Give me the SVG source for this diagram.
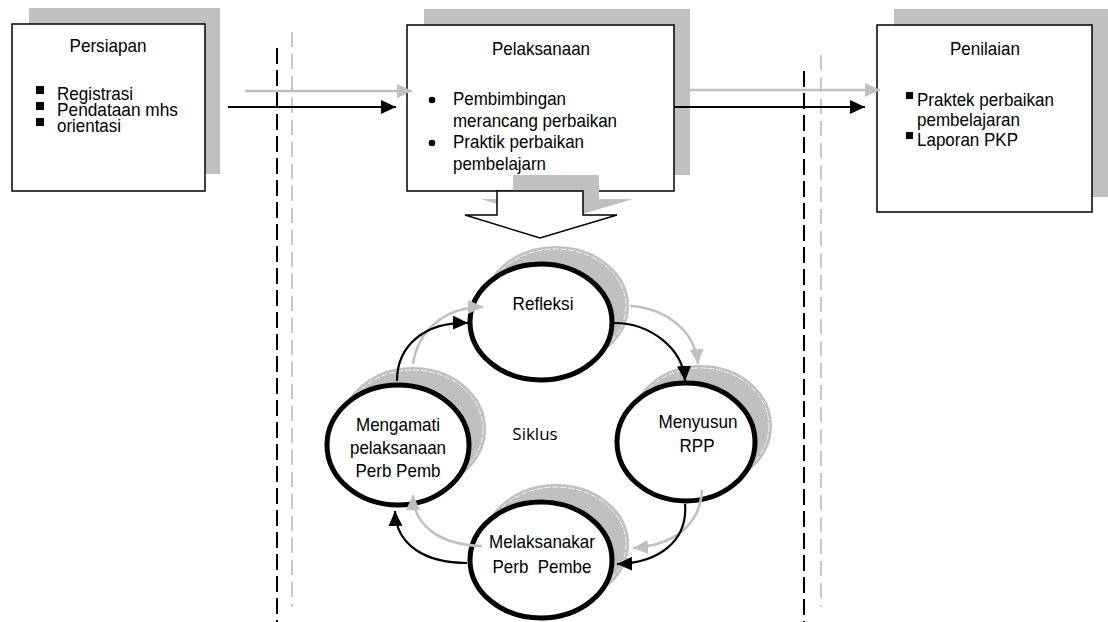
<svg xmlns="http://www.w3.org/2000/svg" width="1108" height="622" viewBox="0 0 1108 622">
<style>
.t{font-family:"Liberation Sans",Arial,sans-serif;font-size:18.5px;fill:#000}
.c{text-anchor:middle}
.sh{fill:#c0c0c0}
.box{fill:#fff;stroke:#000;stroke-width:1.5}
.ring{fill:#fff;stroke:#000;stroke-width:5}
.eshadow{fill:#c0c0c0;stroke:#c0c0c0;stroke-width:4}
.ewhite{fill:none;stroke:#fff;stroke-width:0.8;stroke-dasharray:6 2}
.blk{fill:none;stroke:#000;stroke-width:2.2}
.gry{fill:none;stroke:#c0c0c0;stroke-width:2.5}
.dk{fill:none;stroke:#000;stroke-width:2;stroke-dasharray:16 6}
.dg{fill:none;stroke:#c8c8c8;stroke-width:2;stroke-dasharray:15 7}
</style>
<defs>
<marker id="ab" markerUnits="userSpaceOnUse" markerWidth="16" markerHeight="15" refX="15" refY="7" orient="auto"><path d="M0,0 L15,7 L0,14 z" fill="#000"/></marker>
<marker id="ag" markerUnits="userSpaceOnUse" markerWidth="16" markerHeight="15" refX="15" refY="7" orient="auto"><path d="M0,0 L15,7 L0,14 z" fill="#c0c0c0"/></marker>
</defs>
<rect width="1108" height="622" fill="#fff"/>

<g id="separators">
<line class="dg" x1="292" y1="32" x2="292" y2="607"/>
<line class="dk" x1="277" y1="48" x2="277" y2="622"/>
<line class="dg" x1="821" y1="55" x2="821" y2="607"/>
<line class="dk" x1="804" y1="71" x2="804" y2="622"/>
</g>

<g id="persiapan">
<rect class="sh" x="29" y="8" width="191" height="166"/>
<rect class="box" x="12" y="24" width="193" height="167"/>
<text class="t c" x="108" y="52" textLength="77" lengthAdjust="spacingAndGlyphs">Persiapan</text>
<rect x="36" y="86" width="8" height="8"/>
<rect x="36" y="102" width="8" height="8"/>
<rect x="36" y="118" width="8" height="8"/>
<text class="t" x="57" y="100" textLength="76" lengthAdjust="spacingAndGlyphs">Registrasi</text>
<text class="t" x="57" y="116" textLength="121" lengthAdjust="spacingAndGlyphs">Pendataan mhs</text>
<text class="t" x="57" y="132" textLength="64" lengthAdjust="spacingAndGlyphs">orientasi</text>
</g>

<g id="pelaksanaan">
<rect class="sh" x="424" y="9" width="266" height="166"/>
<rect class="box" x="407" y="25" width="267" height="166"/>
<polygon class="sh" points="513,175 599,175 599,199 633,199 556,222 481,199 513,199"/>
<polygon points="497,191 583,191 583,215 617,215 540,238 465,215 497,215" fill="#fff" stroke="#000" stroke-width="1.5"/>
<text class="t c" x="541" y="55" textLength="98" lengthAdjust="spacingAndGlyphs">Pelaksanaan</text>
<circle cx="432" cy="100" r="3.3"/>
<circle cx="432" cy="143" r="3.3"/>
<text class="t" x="453" y="105" textLength="113" lengthAdjust="spacingAndGlyphs">Pembimbingan</text>
<text class="t" x="453" y="127" textLength="164" lengthAdjust="spacingAndGlyphs">merancang perbaikan</text>
<text class="t" x="453" y="148" textLength="131" lengthAdjust="spacingAndGlyphs">Praktik perbaikan</text>
<text class="t" x="453" y="170" textLength="93" lengthAdjust="spacingAndGlyphs">pembelajarn</text>
</g>

<g id="penilaian">
<rect class="sh" x="894" y="9" width="214" height="188"/>
<rect class="box" x="877" y="25" width="215" height="187"/>
<text class="t c" x="985" y="55" textLength="70" lengthAdjust="spacingAndGlyphs">Penilaian</text>
<rect x="906" y="92" width="7" height="7"/>
<rect x="906" y="132" width="7" height="7"/>
<text class="t" x="917" y="106" textLength="137" lengthAdjust="spacingAndGlyphs">Praktek perbaikan</text>
<text class="t" x="917" y="126" textLength="103" lengthAdjust="spacingAndGlyphs">pembelajaran</text>
<text class="t" x="917" y="146" textLength="101" lengthAdjust="spacingAndGlyphs">Laporan PKP</text>
</g>

<g id="refleksi">
<ellipse class="eshadow" cx="556" cy="306" rx="71" ry="58"/>
<ellipse class="ewhite" cx="556" cy="306" rx="70" ry="57"/>
<ellipse class="ring" cx="541" cy="322" rx="71" ry="58"/>
<text class="t c" x="543" y="310" textLength="61" lengthAdjust="spacingAndGlyphs">Refleksi</text>
</g>

<g id="menyusun">
<ellipse class="eshadow" cx="701" cy="426" rx="69" ry="59"/>
<ellipse class="ewhite" cx="701" cy="426" rx="68" ry="58"/>
<ellipse class="ring" cx="686" cy="442" rx="69" ry="59"/>
<text class="t c" x="698" y="428" textLength="79" lengthAdjust="spacingAndGlyphs">Menyusun</text>
<text class="t c" x="697" y="452" textLength="35" lengthAdjust="spacingAndGlyphs">RPP</text>
</g>

<g id="melaksanakan">
<ellipse class="eshadow" cx="556" cy="544" rx="71" ry="58"/>
<ellipse class="ewhite" cx="556" cy="544" rx="70" ry="57"/>
<ellipse class="ring" cx="541" cy="560" rx="71" ry="58"/>
<text class="t c" x="542" y="548" textLength="106" lengthAdjust="spacingAndGlyphs">Melaksanakar</text>
<text class="t c" x="542" y="573" style="white-space:pre" textLength="99" lengthAdjust="spacingAndGlyphs">Perb  Pembe</text>
</g>

<g id="mengamati">
<ellipse class="eshadow" cx="413" cy="429" rx="71" ry="60"/>
<ellipse class="ewhite" cx="413" cy="429" rx="70" ry="59"/>
<ellipse class="ring" cx="398" cy="445" rx="71" ry="60"/>
<text class="t c" x="398" y="431" textLength="84" lengthAdjust="spacingAndGlyphs">Mengamati</text>
<text class="t c" x="398" y="454" textLength="96" lengthAdjust="spacingAndGlyphs">pelaksanaan</text>
<text class="t c" x="398" y="477" textLength="85" lengthAdjust="spacingAndGlyphs">Perb Pemb</text>
</g>

<g id="siklus">
<text x="535" y="440" text-anchor="middle" style="font-family:'Open Sans','Noto Sans',sans-serif;font-size:17px">Siklus</text>
</g>

<g id="connectors">
<line class="gry" x1="245" y1="91" x2="412" y2="91" marker-end="url(#ag)"/>
<line class="blk" x1="228" y1="107" x2="396" y2="107" marker-end="url(#ab)"/>
<line class="gry" x1="690" y1="90" x2="880" y2="90" marker-end="url(#ag)"/>
<line class="blk" x1="674" y1="107" x2="865" y2="107" marker-end="url(#ab)"/>
<path class="gry" d="M413,364 C418,330 445,307 483,307" marker-end="url(#ag)"/>
<path class="blk" d="M397,381 C397,345 425,322 468,323" marker-end="url(#ab)"/>
<path class="gry" d="M630,306 C665,308 695,330 698,364" marker-end="url(#ag)"/>
<path class="blk" d="M614,323 C650,323 683,348 685,381" marker-end="url(#ab)"/>
<path class="gry" d="M702,490 C700,525 675,545 633,548" marker-end="url(#ag)"/>
<path class="blk" d="M685,504 C688,540 660,563 617,564" marker-end="url(#ab)"/>
<path class="gry" d="M482,546 C440,545 413,525 413,495" marker-end="url(#ag)"/>
<path class="blk" d="M467,563 C425,563 396,545 395,511" marker-end="url(#ab)"/>
</g>
</svg>
